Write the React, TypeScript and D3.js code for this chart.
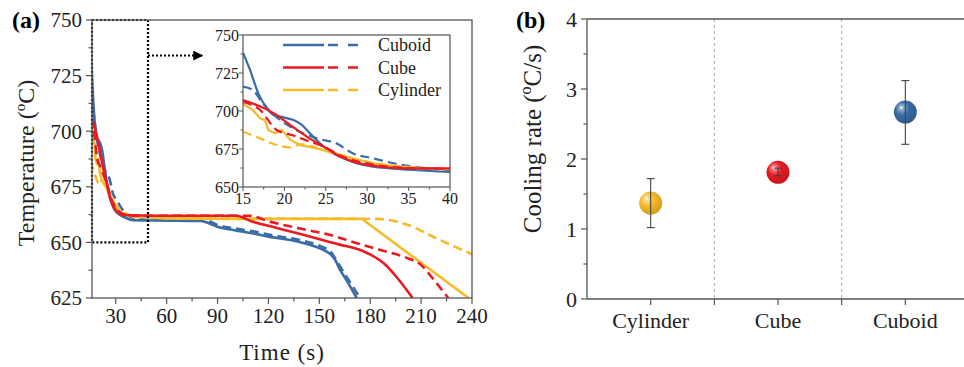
import React from "react";
import * as d3 from "d3";

// ---------- Panel (a) data: time (s) and temperature (°C) ----------
const cuboidSolidT = [15, 15.85, 16.85, 17.9, 18.7, 19.9, 21.1, 22.1, 23.1, 24.1, 25.3, 26.7, 28.7, 30.7, 32.75, 35.6, 40, 60, 80, 85, 90, 100, 111, 120, 137, 150, 156, 159, 162, 166, 172];
const cuboidSolidV = [738.4, 727, 711.6, 701.8, 697.4, 695.8, 694, 690.8, 685.3, 679.8, 674.3, 670, 665.6, 663.4, 662.3, 661.2, 660, 659.8, 659.6, 658.6, 657, 655.5, 654, 652.6, 650.4, 647.4, 645, 642.5, 638, 633, 625];
const cuboidDashT = [15, 16.2, 17.25, 18.3, 19.5, 20.7, 22.3, 23.9, 26.3, 28.3, 30.7, 33.2, 35.6, 40, 60, 80, 86, 90, 100, 111, 120, 137, 150, 157, 160, 164, 169, 174];
const cuboidDashV = [716, 713.8, 706, 699.6, 694, 689.7, 685.3, 682, 678.7, 672, 668.9, 665.6, 663.4, 661.2, 660.5, 660.3, 659.3, 657.8, 656.3, 655, 653.5, 651.3, 648.5, 645.5, 642, 637, 631, 625];
const cubeSolidT = [15, 17.1, 18.7, 20.7, 22.7, 25.1, 26.7, 28.7, 31.5, 34.8, 40, 60, 80, 101, 110, 125, 140, 156, 162, 176, 188, 196, 205];
const cubeSolidV = [707.2, 702.9, 698.5, 690.8, 683.1, 675.4, 670, 666, 663.4, 662.3, 662.2, 662, 662, 662, 659.5, 656.5, 653.5, 650.2, 649, 646, 640.6, 634, 625];
const cubeDashT = [15, 17.05, 19.07, 21, 23, 25, 27, 30, 35, 40, 60, 80, 109, 120, 140, 156, 175, 186, 202, 210, 216, 226];
const cubeDashV = [706, 700.7, 687.5, 684, 680, 676, 670, 665.5, 662.5, 662, 662, 662, 662, 659.5, 656, 653.4, 649, 646.6, 642.9, 639.9, 634.6, 625];
const cylSolidT = [15, 16.2, 17.05, 17.65, 18.05, 18.9, 19.7, 20.7, 21.9, 23.9, 26.3, 28.3, 30.7, 33.6, 40, 60, 100, 140, 175, 238];
const cylSolidV = [704.6, 700.7, 695.2, 694, 687.5, 685.3, 687.5, 681, 677.6, 675.4, 672, 668.9, 665.6, 663.4, 661.5, 660.8, 660.6, 660.6, 660.6, 625];
const cylDashT = [15, 17.05, 19.1, 20.7, 22, 24.7, 26.7, 29.9, 32.75, 40, 60, 100, 150, 184, 192, 202, 221, 241];
const cylDashV = [686.4, 682, 677.6, 676, 678, 674.3, 670.4, 666.7, 664.5, 662, 661, 660.8, 660.7, 660.6, 660, 657.9, 651.1, 644.4];

const legendLabels = ["Cuboid", "Cube", "Cylinder"];
const mainXTicks = [30, 60, 90, 120, 150, 180, 210, 240];
const mainXMinor = [45, 75, 105, 135, 165, 195, 225];
const mainYTicks = [625, 650, 675, 700, 725, 750];
const mainYMinor = [637.5, 662.5, 687.5, 712.5, 737.5];
const insetXTicks = [15, 20, 25, 30, 35, 40];
const insetXMinor = [17.5, 22.5, 27.5, 32.5, 37.5];
const insetYTicks = [650, 675, 700, 725, 750];
const insetYMinor = [662.5, 687.5, 712.5, 737.5];
const zoomBoxT = [16, 49];
const zoomBoxV = [650, 750];
const arrowT = [49, 81];
const arrowV = 734;

// ---------- Panel (b) data ----------
const shapes = ["Cylinder", "Cube", "Cuboid"];
const coolingRate = [1.37, 1.81, 2.67];
const rateLow = [1.02, 1.76, 2.21];
const rateHigh = [1.72, 1.87, 3.12];
const rateTicks = [0, 1, 2, 3, 4];
const rateMinor = [0.5, 1.5, 2.5, 3.5];

const BLUE = "#3a6ca6";
const RED = "#ea1a22";
const YELLOW = "#f8b92a";
const AXIS = "#555";
const FONT = "Liberation Serif";

const series = [
  { t: cuboidSolidT, v: cuboidSolidV, color: BLUE, dash: null, linear: false },
  { t: cuboidDashT, v: cuboidDashV, color: BLUE, dash: "9,5", linear: false },
  { t: cylSolidT, v: cylSolidV, color: YELLOW, dash: null, linear: true },
  { t: cylDashT, v: cylDashV, color: YELLOW, dash: "9,5", linear: false },
  { t: cubeDashT, v: cubeDashV, color: RED, dash: "9,5", linear: false },
  { t: cubeSolidT, v: cubeSolidV, color: RED, dash: null, linear: false },
];
const legendColors = [BLUE, RED, YELLOW];
const sphereColors = [YELLOW, RED, BLUE];

export default function App() {
  const x = d3.scaleLinear().domain([16, 240]).range([92, 472]);
  const y = d3.scaleLinear().domain([625, 750]).range([298, 20]);
  const xi = d3.scaleLinear().domain([15, 40]).range([243, 450]);
  const yi = d3.scaleLinear().domain([650, 750]).range([187, 35]);
  const xb = d3.scaleBand().domain(shapes).range([587, 969]);
  const yb = d3.scaleLinear().domain([0, 4]).range([299, 19]);

  const mkLine = (sx: any, sy: any, linear: boolean) =>
    d3
      .line<number>()
      .x((d: any) => sx(d[0]))
      .y((d: any) => sy(d[1]))
      .curve(linear ? d3.curveLinear : d3.curveMonotoneX);

  const pts = (s: any) => s.t.map((t: number, i: number) => [t, s.v[i]]);

  const bw = xb.bandwidth();
  const [xr0, xr1] = x.range();
  const [yr0, yr1] = y.range();

  return (
    <svg width={964} height={367} style={{ position: "absolute", left: 0, top: 0, background: "#fff" }}>
      <defs>
        <clipPath id="mainClip">
          <rect x={xr0} y={yr1} width={xr1 - xr0} height={yr0 - yr1} />
        </clipPath>
        <clipPath id="insetClip">
          <rect x={xi(15)} y={yi(750)} width={xi(40) - xi(15)} height={yi(650) - yi(750)} />
        </clipPath>
        {sphereColors.map((c, i) => (
          <radialGradient key={i} id={`sph${i}`} cx="40%" cy="38%" r="65%" fx="32%" fy="30%">
            <stop offset="0%" stopColor="#ffffff" />
            <stop offset="14%" stopColor={d3.interpolateRgb("#ffffff", c)(0.55)} />
            <stop offset="45%" stopColor={c} />
            <stop offset="100%" stopColor={d3.color(c)!.darker(0.5).toString()} />
          </radialGradient>
        ))}
        <marker id="arrowHead" viewBox="0 0 10 10" refX="9" refY="5" markerWidth="5" markerHeight="5" orient="auto">
          <path d="M0,0 L10,5 L0,10 Z" fill="#000" />
        </marker>
      </defs>

      {/* ---------------- Panel (a) ---------------- */}
      <text x={12} y={28} fontSize={24} fontWeight="bold" fontFamily={FONT}>(a)</text>

      <g clipPath="url(#mainClip)">
        {series.map((s, i) => (
          <path
            key={i}
            d={mkLine(x, y, s.linear)(pts(s) as any) || ""}
            fill="none"
            stroke={s.color}
            strokeWidth={2.6}
            strokeDasharray={s.dash || undefined}
            strokeLinejoin="round"
          />
        ))}
      </g>

      <rect
        x={x(zoomBoxT[0])}
        y={y(zoomBoxV[1])}
        width={x(zoomBoxT[1]) - x(zoomBoxT[0])}
        height={y(zoomBoxV[0]) - y(zoomBoxV[1])}
        fill="none"
        stroke="#000"
        strokeWidth={2.2}
        strokeDasharray="2,2"
      />
      <line
        x1={x(arrowT[0])}
        x2={x(arrowT[1])}
        y1={y(arrowV)}
        y2={y(arrowV)}
        stroke="#000"
        strokeWidth={2}
        strokeDasharray="2,2"
        markerEnd="url(#arrowHead)"
      />

      <rect x={xr0} y={yr1} width={xr1 - xr0} height={yr0 - yr1} fill="none" stroke={AXIS} strokeWidth={1.3} />
      {mainYTicks.map((v) => (
        <g key={v}>
          <line x1={xr0 - 6} x2={xr0} y1={y(v)} y2={y(v)} stroke={AXIS} strokeWidth={1.2} />
          <text x={xr0 - 10} y={y(v)} dy="0.35em" textAnchor="end" fontSize={21} fill="#222" fontFamily={FONT}>{v}</text>
        </g>
      ))}
      {mainYMinor.map((v) => (
        <line key={v} x1={xr0 - 3.5} x2={xr0} y1={y(v)} y2={y(v)} stroke={AXIS} strokeWidth={1.2} />
      ))}
      {mainXTicks.map((v) => (
        <g key={v}>
          <line x1={x(v)} x2={x(v)} y1={yr0} y2={yr0 + 6} stroke={AXIS} strokeWidth={1.2} />
          <text x={x(v)} y={yr0 + 25} textAnchor="middle" fontSize={21} fill="#222" fontFamily={FONT}>{v}</text>
        </g>
      ))}
      {mainXMinor.map((v) => (
        <line key={v} x1={x(v)} x2={x(v)} y1={yr0} y2={yr0 + 3.5} stroke={AXIS} strokeWidth={1.2} />
      ))}
      <text x={(xr0 + xr1) / 2} y={360} textAnchor="middle" fontSize={23} fill="#222" letterSpacing={1} fontFamily={FONT}>Time (s)</text>
      <text transform={`translate(34,163) rotate(-90)`} textAnchor="middle" fontSize={24} fill="#222" fontFamily={FONT}>
        Temperature (<tspan fontSize={15} dy="-9">o</tspan><tspan dy="9">C)</tspan>
      </text>

      {/* inset */}
      <rect x={xi(15)} y={yi(750)} width={xi(40) - xi(15)} height={yi(650) - yi(750)} fill="#fff" />
      <g clipPath="url(#insetClip)">
        {series.map((s, i) => (
          <path
            key={i}
            d={mkLine(xi, yi, s.linear)(pts(s) as any) || ""}
            fill="none"
            stroke={s.color}
            strokeWidth={2.2}
            strokeDasharray={s.dash || undefined}
            strokeLinejoin="round"
          />
        ))}
      </g>
      <rect x={xi(15)} y={yi(750)} width={xi(40) - xi(15)} height={yi(650) - yi(750)} fill="none" stroke={AXIS} strokeWidth={1.2} />
      {insetYTicks.map((v) => (
        <g key={v}>
          <line x1={xi(15) - 4} x2={xi(15)} y1={yi(v)} y2={yi(v)} stroke={AXIS} strokeWidth={1} />
          <text x={xi(15) - 4} y={yi(v)} dy="0.35em" textAnchor="end" fontSize={16} fill="#222" fontFamily={FONT}>{v}</text>
        </g>
      ))}
      {insetYMinor.map((v) => (
        <line key={v} x1={xi(15) - 2.5} x2={xi(15)} y1={yi(v)} y2={yi(v)} stroke={AXIS} strokeWidth={1} />
      ))}
      {insetXTicks.map((v) => (
        <g key={v}>
          <line x1={xi(v)} x2={xi(v)} y1={yi(650)} y2={yi(650) + 4} stroke={AXIS} strokeWidth={1} />
          <text x={xi(v)} y={yi(650) + 17} textAnchor="middle" fontSize={16} fill="#222" fontFamily={FONT}>{v}</text>
        </g>
      ))}
      {insetXMinor.map((v) => (
        <line key={v} x1={xi(v)} x2={xi(v)} y1={yi(650)} y2={yi(650) + 2.5} stroke={AXIS} strokeWidth={1} />
      ))}
      {legendLabels.map((lab, i) => {
        const ly = 45 + i * 22.5;
        return (
          <g key={lab}>
            <line x1={283} x2={324} y1={ly} y2={ly} stroke={legendColors[i]} strokeWidth={2.4} />
            <line x1={328} x2={360} y1={ly} y2={ly} stroke={legendColors[i]} strokeWidth={2.4} strokeDasharray="10,10" />
            <text x={378} y={ly} dy="0.35em" fontSize={18} fill="#222" fontFamily={FONT}>{lab}</text>
          </g>
        );
      })}

      {/* ---------------- Panel (b) ---------------- */}
      <text x={516} y={28} fontSize={24} fontWeight="bold" fontFamily={FONT}>(b)</text>
      {shapes.slice(1).map((s) => (
        <line key={s} x1={xb(s)!} x2={xb(s)!} y1={yb(4)} y2={yb(0)} stroke="#aaa" strokeWidth={1} strokeDasharray="3,3" />
      ))}
      <line x1={587} x2={964} y1={yb(4)} y2={yb(4)} stroke={AXIS} strokeWidth={1.3} />
      <line x1={587} x2={964} y1={yb(0)} y2={yb(0)} stroke={AXIS} strokeWidth={1.3} />
      <line x1={587} x2={587} y1={yb(4)} y2={yb(0)} stroke={AXIS} strokeWidth={1.3} />
      {rateTicks.map((v) => (
        <g key={v}>
          <line x1={581} x2={587} y1={yb(v)} y2={yb(v)} stroke={AXIS} strokeWidth={1.2} />
          <text x={577} y={yb(v)} dy="0.35em" textAnchor="end" fontSize={22} fill="#222" fontFamily={FONT}>{v}</text>
        </g>
      ))}
      {rateMinor.map((v) => (
        <line key={v} x1={583.5} x2={587} y1={yb(v)} y2={yb(v)} stroke={AXIS} strokeWidth={1.2} />
      ))}
      {shapes.map((s) => (
        <g key={s}>
          <line x1={xb(s)! + bw / 2} x2={xb(s)! + bw / 2} y1={yb(0)} y2={yb(0) + 6} stroke={AXIS} strokeWidth={1.2} />
          {s !== shapes[0] && (
            <line x1={xb(s)!} x2={xb(s)!} y1={yb(0)} y2={yb(0) + 6} stroke={AXIS} strokeWidth={1.2} />
          )}
          <text x={xb(s)! + bw / 2} y={328} textAnchor="middle" fontSize={22} fill="#222" fontFamily={FONT}>{s}</text>
        </g>
      ))}
      <text transform={`translate(541,139) rotate(-90)`} textAnchor="middle" fontSize={25} fill="#222" fontFamily={FONT}>
        Cooling rate (<tspan fontSize={16} dy="-10">o</tspan><tspan dy="10">C/s)</tspan>
      </text>
      {shapes.map((s, i) => {
        const cx = xb(s)! + bw / 2;
        return (
          <g key={s}>
            <circle cx={cx} cy={yb(coolingRate[i])} r={11.5} fill={`url(#sph${i})`} />
            <line x1={cx} x2={cx} y1={yb(rateLow[i])} y2={yb(rateHigh[i])} stroke="#444" strokeWidth={1.1} />
            <line x1={cx - 4} x2={cx + 4} y1={yb(rateLow[i])} y2={yb(rateLow[i])} stroke="#444" strokeWidth={1.1} />
            <line x1={cx - 4} x2={cx + 4} y1={yb(rateHigh[i])} y2={yb(rateHigh[i])} stroke="#444" strokeWidth={1.1} />
          </g>
        );
      })}
    </svg>
  );
}
